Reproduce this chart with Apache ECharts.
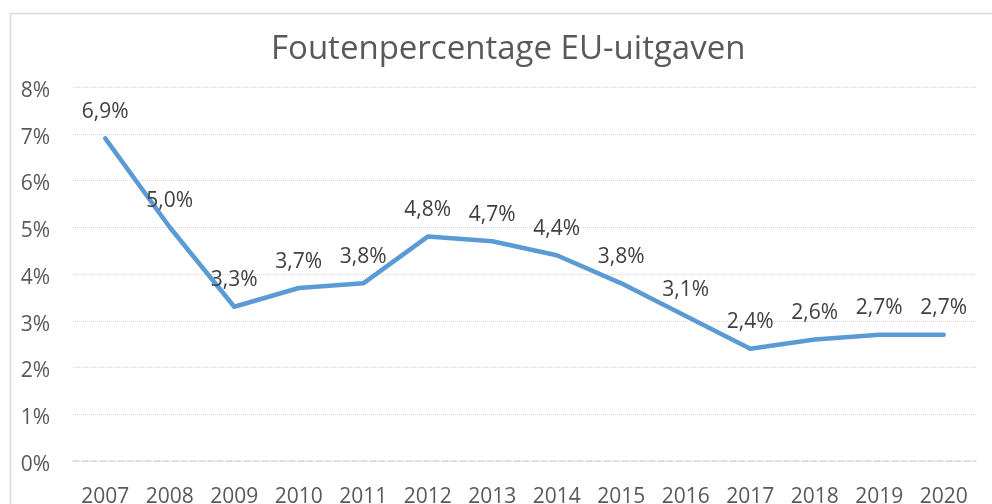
<!DOCTYPE html>
<html><head><meta charset="utf-8">
<script src="https://cdn.jsdelivr.net/npm/echarts@6/dist/echarts.min.js"></script>
<style>html,body{margin:0;padding:0;background:#fff}#c{width:992px;height:504px}</style>
</head><body><div id="c"></div>
<script>
const years = ['2007','2008','2009','2010','2011','2012','2013','2014','2015','2016','2017','2018','2019','2020'];
const values = [6.9, 5.0, 3.3, 3.7, 3.8, 4.8, 4.7, 4.4, 3.8, 3.1, 2.4, 2.6, 2.7, 2.7];
const titleText = 'Foutenpercentage EU-uitgaven';
const FONT = '"Open Sans", sans-serif';
const chart = echarts.init(document.getElementById('c'), null, {renderer:'canvas'});
chart.setOption({
  animation:false,
  backgroundColor:'#fff',
  graphic:[{type:'rect',shape:{x:10.5,y:13.5,width:1000,height:600},style:{fill:'none',stroke:'#d9d9d9',lineWidth:1.5},silent:true,z:-1}],
  title:{text:titleText,left:271,top:33,padding:0,itemGap:0,textStyle:{fontFamily:FONT,fontSize:33,fontWeight:'normal',color:'#595959'}},
  grid:{left:73,right:16,top:87,bottom:43,containLabel:false,outerBoundsMode:'none'},
  xAxis:{type:'category',data:years,boundaryGap:true,
    axisLine:{show:true,lineStyle:{color:'#d9d9d9',type:'dashed',width:1.5}},
    axisTick:{show:false},
    axisLabel:{fontFamily:FONT,fontSize:21,color:'#595959',margin:26}},
  yAxis:{type:'value',min:0,max:8,interval:1,
    axisLine:{show:false},axisTick:{show:false},
    splitLine:{lineStyle:{color:'#d9d9d9',type:'dotted',width:1}},
    axisLabel:{fontFamily:FONT,fontSize:21,color:'#595959',margin:23,verticalAlign:'top',lineHeight:8,formatter:v=>v+'%'}},
  series:[{type:'line',data:values,showSymbol:true,symbol:'circle',symbolSize:2,
    itemStyle:{color:'rgba(91,155,213,0)',borderWidth:0},
    lineStyle:{color:'#5b9bd5',width:4.5,cap:'round',join:'round'},
    labelLayout:{hideOverlap:false},
    label:{show:true,position:'top',distance:15,fontFamily:FONT,fontSize:21,color:'#404040',
      formatter:p=>p.value.toFixed(1).replace('.',',')+'%'}}]
});
</script></body></html>
